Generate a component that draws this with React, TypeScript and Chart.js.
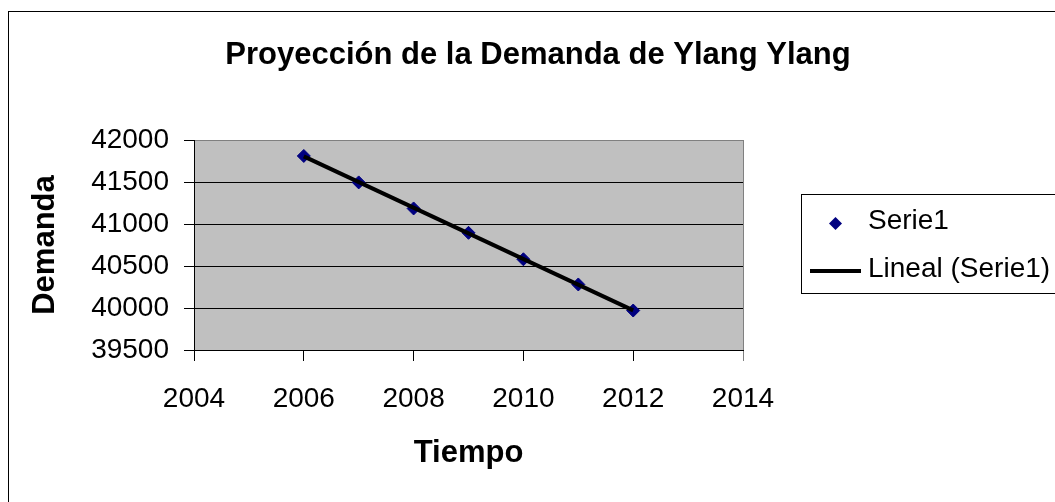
import React, { useEffect, useRef } from 'react';
import { Chart, registerables } from 'chart.js';

Chart.register(...registerables);

const years = [2006, 2007, 2008, 2009, 2010, 2011, 2012];
const demanda = [41810, 41495, 41185, 40895, 40580, 40280, 39970];
const trendYears = [2006, 2012];
const trendValues = [41805, 39971];
const xTicks = [2004, 2006, 2008, 2010, 2012, 2014];
const yTicks = [39500, 40000, 40500, 41000, 41500, 42000];
const seriesLabels = ['Serie1', 'Lineal (Serie1)'];
const titleText = 'Proyección de la Demanda de Ylang Ylang';
const xTitle = 'Tiempo';
const yTitle = 'Demanda';

const FONT = '"Liberation Sans", Arial, Helvetica, sans-serif';

function makeDiamondImage(): HTMLCanvasElement {
  const c = document.createElement('canvas');
  c.width = 121;
  c.height = 20;
  const g = c.getContext('2d')!;
  g.fillStyle = '#000080';
  g.beginPath();
  g.moveTo(81, 12.5);
  g.lineTo(87.5, 6);
  g.lineTo(94, 12.5);
  g.lineTo(87.5, 19);
  g.closePath();
  g.fill();
  return c;
}

function makeLineImage(): HTMLCanvasElement {
  const c = document.createElement('canvas');
  c.width = 121;
  c.height = 20;
  const g = c.getContext('2d')!;
  g.fillStyle = '#000000';
  g.fillRect(62, 10, 51, 4);
  return c;
}

const decorPlugin = {
  id: 'decor',
  beforeDraw(chart: any) {
    const { ctx, chartArea: a } = chart;
    ctx.save();
    ctx.fillStyle = '#C0C0C0';
    ctx.fillRect(a.left, a.top, a.right - a.left, a.bottom - a.top);
    ctx.restore();
  },
  afterDraw(chart: any) {
    const { ctx } = chart;
    ctx.save();
    ctx.strokeStyle = '#000000';
    ctx.lineWidth = 1;
    ctx.strokeRect(8.5, 11.5, 1200, 700);
    ctx.strokeRect(801.5, 194.5, 400, 99);
    ctx.restore();
  },
};

export default function App() {
  const ref = useRef<HTMLCanvasElement | null>(null);

  useEffect(() => {
    if (!ref.current) return;
    const diamondImg = makeDiamondImage();
    const lineImg = makeLineImage();

    const chart = new Chart(ref.current, {
      type: 'scatter',
      data: {
        datasets: [
          {
            label: seriesLabels[0],
            data: years.map((x, i) => ({ x, y: demanda[i] })),
            pointStyle: 'rectRot',
            pointRadius: 6.5,
            pointBackgroundColor: '#000080',
            pointBorderColor: '#000080',
            pointBorderWidth: 1,
            showLine: false,
            order: 2,
          },
          {
            label: seriesLabels[1],
            data: trendYears.map((x, i) => ({ x, y: trendValues[i] })),
            showLine: true,
            borderColor: '#000000',
            borderWidth: 4,
            pointRadius: 0,
            fill: false,
            order: 1,
          },
        ],
      } as any,
      options: {
        responsive: false,
        devicePixelRatio: 1,
        animation: false,
        layout: { padding: { left: 21, right: 0, top: 0, bottom: 0 } },
        plugins: {
          tooltip: { enabled: false },
          title: {
            display: true,
            text: titleText,
            color: '#000000',
            font: { family: FONT, size: 31, weight: 'bold' },
            padding: { top: 37.2, bottom: 65.6 },
          },
          legend: {
            display: true,
            position: 'right',
            fullSize: false,
            align: 'center',
            maxWidth: 312,
            labels: {
              usePointStyle: true,
              pointStyleWidth: 91,
              padding: 20,
              color: '#000000',
              font: { family: FONT, size: 28 },
              generateLabels: () => [
                {
                  text: seriesLabels[0],
                  pointStyle: diamondImg,
                  fillStyle: '#000080',
                  strokeStyle: '#000080',
                  lineWidth: 0,
                  hidden: false,
                  datasetIndex: 0,
                  fontColor: '#000000',
                },
                {
                  text: seriesLabels[1],
                  pointStyle: lineImg,
                  fillStyle: '#000000',
                  strokeStyle: '#000000',
                  lineWidth: 0,
                  hidden: false,
                  datasetIndex: 1,
                  fontColor: '#000000',
                },
              ],
            },
          },
        },
        scales: {
          x: {
            type: 'linear',
            position: 'bottom',
            min: xTicks[0],
            max: xTicks[xTicks.length - 1],
            afterBuildTicks: (s: any) => {
              s.ticks = xTicks.map((v) => ({ value: v }));
            },
            afterFit: (s: any) => {
              s.height = 152;
            },
            ticks: {
              callback: (v: any) => String(v),
              color: '#000000',
              font: { family: FONT, size: 28 },
              padding: 21.5,
              maxRotation: 0,
              autoSkip: false,
            },
            grid: {
              drawOnChartArea: true,
              color: (c: any) => (c.tick && c.tick.value === 2014 ? '#808080' : 'rgba(0,0,0,0)'),
              tickColor: (c: any) => (c.tick && c.tick.value === 2014 ? '#808080' : '#000000'),
              tickLength: 11,
              lineWidth: 1,
            },
            border: { display: true, color: '#000000', width: 1 },
            title: {
              display: true,
              text: xTitle,
              color: '#000000',
              font: { family: FONT, size: 31, weight: 'bold' },
              padding: { top: 0, bottom: 30.4 },
            },
          },
          y: {
            type: 'linear',
            position: 'left',
            min: yTicks[0],
            max: yTicks[yTicks.length - 1],
            afterBuildTicks: (s: any) => {
              s.ticks = yTicks.map((v) => ({ value: v }));
            },
            afterFit: (s: any) => {
              s.width = 173;
            },
            ticks: {
              callback: (v: any) => String(v),
              color: '#000000',
              font: { family: FONT, size: 28 },
              padding: 15,
            },
            grid: {
              drawOnChartArea: true,
              color: (c: any) => (c.tick && c.tick.value === 42000 ? '#808080' : '#000000'),
              tickColor: '#000000',
              tickLength: 10,
              lineWidth: 1,
            },
            border: { display: true, color: '#000000', width: 1 },
            title: {
              display: true,
              text: yTitle,
              color: '#000000',
              font: { family: FONT, size: 31, weight: 'bold' },
              padding: { top: 5.7, bottom: 0 },
            },
          },
        },
      } as any,
      plugins: [decorPlugin],
    });

    return () => {
      chart.destroy();
    };
  }, []);

  return (
    <div style={{ position: 'fixed', left: 0, top: 0, width: 1055, height: 502, background: '#ffffff' }}>
      <canvas ref={ref} width={1055} height={502} style={{ display: 'block' }} />
    </div>
  );
}
